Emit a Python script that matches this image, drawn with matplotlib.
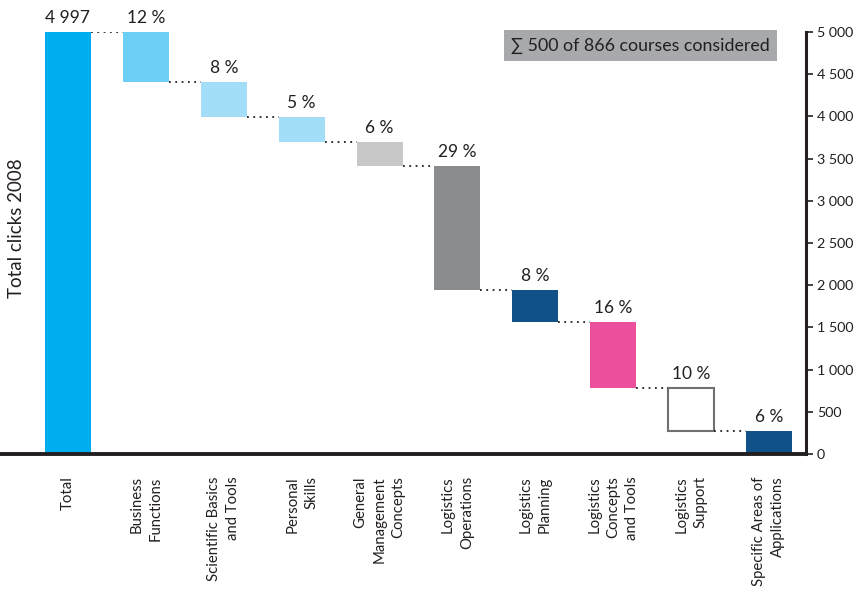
import numpy as np
import matplotlib.pyplot as plt

plt.rcParams['font.family'] = ['Lato', 'DejaVu Sans']

categories = ["Total", "Business\nFunctions", "Scientific Basics\nand Tools",
              "Personal\nSkills", "General\nManagement\nConcepts",
              "Logistics\nOperations", "Logistics\nPlanning",
              "Logistics\nConcepts\nand Tools", "Logistics\nSupport",
              "Specific Areas of\nApplications"]
total = 4997
steps = [590, 415, 296, 284, 1470, 379, 782, 510, 271]
labels = ["4 997", "12 %", "8 %", "5 %", "6 %", "29 %", "8 %", "16 %", "10 %", "6 %"]
colors = ["#00aeef", "#6dcff6", "#a3ddf7", "#a3ddf7", "#c8c8c8", "#8b8c8e",
          "#10518a", "#ec4f9b", "white", "#10518a"]
yticks = [0, 500, 1000, 1500, 2000, 2500, 3000, 3500, 4000, 4500, 5000]

txt = "#231f20"
fig = plt.figure(figsize=(8.62, 5.94), dpi=100)
ax = fig.add_axes([0.0, 0.2357, 0.935, 0.7104])

x = np.arange(len(categories))
w = 0.59

# running totals
tops = [total]
bottoms = [0]
level = total
for s in steps:
    tops.append(level)
    bottoms.append(level - s)
    level -= s

for i in range(len(categories)):
    h = tops[i] - bottoms[i]
    if colors[i] == "white":
        ax.bar(x[i], h, w, bottom=bottoms[i], color="white", edgecolor="#707070", linewidth=1.5)
    else:
        ax.bar(x[i], h, w, bottom=bottoms[i], color=colors[i], linewidth=0)
    ax.text(x[i], tops[i] + 70, labels[i], ha="center", va="bottom", fontsize=12.5, color=txt)

# dotted connectors
for i in range(len(categories) - 1):
    lvl = bottoms[i] if i > 0 else tops[0]
    ax.plot([x[i] + w / 2, x[i + 1] - w / 2], [lvl, lvl], color=txt, linestyle=(0, (1, 2.5)), linewidth=1.3)

ax.set_xlim(-0.873, 9.475)
ax.set_ylim(0, 5000)
ax.set_xticks(x)
ax.set_xticklabels(categories, rotation=90, ha="center", va="top", multialignment="right",
                   fontsize=10.7, color=txt, linespacing=1.45)
ax.tick_params(axis="x", length=0, pad=16)

ax.yaxis.tick_right()
ax.set_yticks(yticks)
ax.set_yticklabels([f"{v:,}".replace(",", " ") for v in yticks], fontsize=10.3, color=txt)
ax.tick_params(axis="y", direction="out", length=5, width=1.2, color=txt, pad=3)

for side in ["top", "left"]:
    ax.spines[side].set_visible(False)
ax.spines["right"].set_linewidth(2.2)
ax.spines["right"].set_color(txt)
ax.spines["bottom"].set_linewidth(2.8)
ax.spines["bottom"].set_color(txt)

ax.text(0.021, 0.535, "Total clicks 2008", transform=ax.transAxes, rotation=90,
        ha="center", va="center", fontsize=13.5, color=txt)

ax.text(0.955, 0.968, "∑ 500 of 866 courses considered", transform=ax.transAxes,
        ha="right", va="center", fontsize=12.8, color=txt,
        bbox=dict(boxstyle="square,pad=0.4", facecolor="#a7a9ac", edgecolor="none"))

fig.savefig("out.png", dpi=100)
